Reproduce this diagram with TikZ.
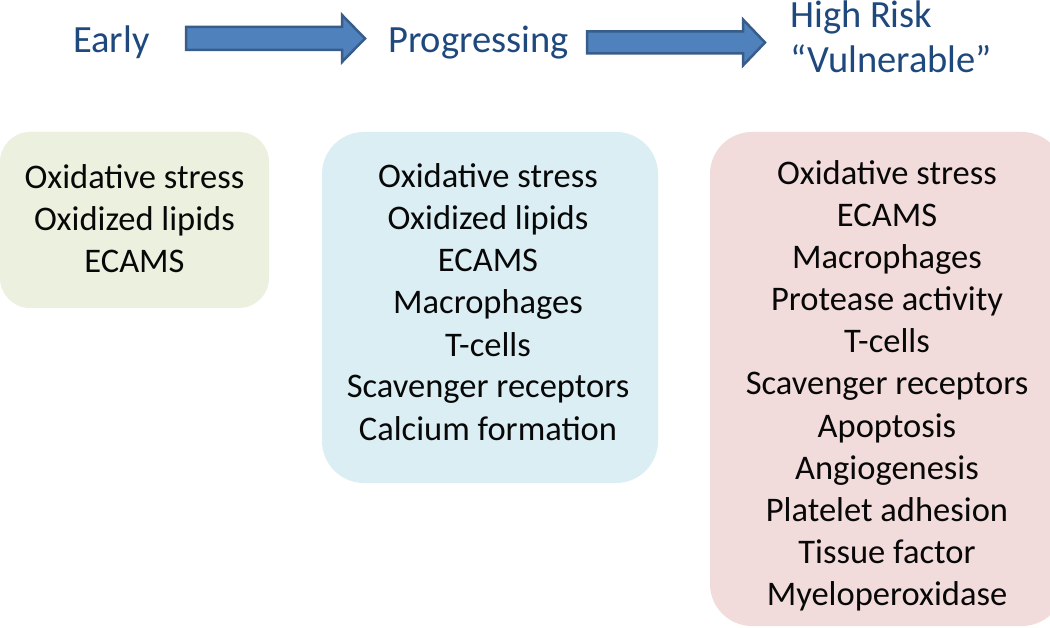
\documentclass[tikz,border=0pt]{standalone}
\usepackage{fontspec}
\setmainfont{Carlito}
\definecolor{titleblue}{RGB}{31,73,125}
\definecolor{arrowfill}{RGB}{79,129,189}
\definecolor{arrowline}{RGB}{56,93,138}
\definecolor{greenbox}{RGB}{235,241,222}
\definecolor{bluebox}{RGB}{219,238,244}
\definecolor{pinkbox}{RGB}{242,220,219}
\definecolor{itemtext}{RGB}{8,8,8}
\begin{document}
\begin{tikzpicture}[x=1pt,y=-1pt,
  title/.style={text=titleblue,font=\fontsize{38.5}{46}\selectfont,inner sep=0pt,anchor=base west},
  item/.style={text=itemtext,font=\fontsize{34.5}{42}\selectfont,inner sep=0pt,anchor=base},
  blockarrow/.style={fill=arrowfill,draw=arrowline,line width=2.5pt,line join=miter}
]
\clip (0,0) rectangle (1050,628);
\fill[white] (0,0) rectangle (1050,628);

% titles
\node[title] (early) at (73,53) {Early};
\node[title] (prog) at (388,53) {Progressing};
\node[title] (high1) at (790,27.5) {High Risk};
\node[title] (high2) at (790,73) {“Vulnerable”};

% block arrows
\coordinate (a1) at (186,38.5);
\coordinate (a2) at (587,42.5);
\draw[blockarrow] (a1) ++(0,-11.5) -- ++(156,0) -- ++(0,-12) -- ++(23,23.5) -- ++(-23,23.5) -- ++(0,-12) -- ++(-156,0) -- cycle;
\draw[blockarrow] (a2) ++(0,-11) -- ++(156,0) -- ++(0,-12) -- ++(22,23) -- ++(-22,23) -- ++(0,-12) -- ++(-156,0) -- cycle;

% panels
\fill[greenbox,rounded corners=30pt] (0,132) rectangle (269,308);
\fill[bluebox,rounded corners=42pt] (322,132) rectangle (658,483);
\fill[pinkbox,rounded corners=42pt] (710,132) rectangle (1064,626);

\foreach \t [count=\i] in {Oxidative stress,Oxidized lipids,ECAMS}
  \node[item] (g\i) at (134.5,{189+42*(\i-1)}) {\t};
\foreach \t [count=\i] in {Oxidative stress,Oxidized lipids,ECAMS,Macrophages,T-cells,Scavenger receptors,Calcium formation}
  \node[item] (b\i) at (488,{188+42*(\i-1)}) {\t};
\foreach \t [count=\i] in {Oxidative stress,ECAMS,Macrophages,Protease activity,T-cells,Scavenger receptors,Apoptosis,Angiogenesis,Platelet adhesion,Tissue factor,Myeloperoxidase}
  \node[item] (p\i) at (887,{185+42*(\i-1)}) {\t};
\end{tikzpicture}
\end{document}
